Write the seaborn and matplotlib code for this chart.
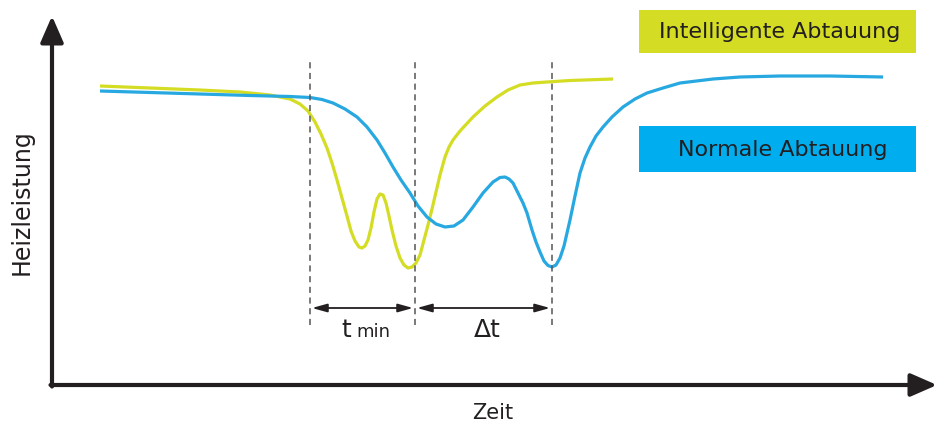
import matplotlib
matplotlib.use("Agg")
import matplotlib.pyplot as plt
from matplotlib.patches import Rectangle
import seaborn as sns
import pandas as pd

# Schematic: heating output over time during defrost
zeit_intelligent = [48, 98, 148, 188, 218, 238, 248, 256, 263, 269, 275, 280, 285, 290, 295, 299,
                    303, 307, 310, 313, 316, 319, 322, 325, 328, 331, 334, 337, 340, 344, 348,
                    352, 356, 360, 364, 368, 372, 376, 380, 384, 388, 393, 397, 401, 408, 421,
                    433, 445, 456, 468, 481, 495, 518, 561]
heiz_intelligent = [299, 297, 295, 293, 290, 286, 281, 274, 263, 251, 237, 222, 205, 187, 169, 154,
                    144, 138, 137, 139, 145, 157, 173, 186, 191, 190, 182, 169, 155, 139, 127,
                    120, 117, 118, 122, 130, 145, 160, 176, 193, 210, 228, 238, 245, 254, 268,
                    279, 288, 295, 300, 302, 303, 304.5, 306]

zeit_normal = [48, 98, 148, 198, 238, 258, 270, 281, 293, 305, 315, 325, 333, 341, 349, 358, 366,
               375, 384, 393, 402, 411, 421, 431, 441, 448, 453, 457, 461, 466, 471, 475, 480,
               484, 488, 492, 496, 500, 504, 508, 512, 515, 518, 523, 528, 533, 538, 544, 551,
               560, 571, 583, 595, 611, 628, 661, 688, 728, 778, 831]
heiz_normal = [294, 292.5, 291, 289.5, 288.5, 287.5, 285.5, 282, 276, 268, 258, 245, 232, 218, 205,
               192, 179, 168, 161, 158, 159, 165, 178, 192, 203, 207.5, 208, 206, 202, 192, 182,
               172, 155, 143, 133, 124, 119.5, 118, 120, 127, 139, 152, 165, 189, 212, 227, 238,
               249, 258, 268, 278, 286, 292, 297, 302, 306, 308, 309, 309, 308]

marker_zeit = [258, 363, 500]
legend_labels = ["Intelligente Abtauung", "Normale Abtauung"]
gelb = "#d4dd24"
blau = "#27a8e0"
blau_box = "#00adef"
dunkel = "#231f20"

df = pd.concat([
    pd.DataFrame({"Zeit": zeit_intelligent, "Heizleistung": heiz_intelligent, "Modus": legend_labels[0]}),
    pd.DataFrame({"Zeit": zeit_normal, "Heizleistung": heiz_normal, "Modus": legend_labels[1]}),
])

sns.set_style("white")
plt.rcParams["font.family"] = ["DejaVu Sans"]

fig = plt.figure(figsize=(9.48, 4.28), dpi=100)
ax = fig.add_axes([0, 0, 1, 1])
sns.lineplot(data=df, x="Zeit", y="Heizleistung", hue="Modus", sort=False,
             palette=[gelb, blau], linewidth=2.3, legend=False, ax=ax,
             solid_joinstyle="round", solid_capstyle="butt")
ax.set_xlim(-52, 896)
ax.set_ylim(-43, 385)
ax.axis("off")

# dashed markers
for z in marker_zeit:
    ax.plot([z, z], [60, 323], color="#555555", lw=1.1, ls=(0, (4, 3)))

# axes with arrows
ax.annotate("", xy=(0, 369), xytext=(0, -1.5),
            arrowprops=dict(arrowstyle="-|>,head_length=1.6,head_width=0.7", color=dunkel, lw=3,
                            shrinkA=0, shrinkB=0))
ax.annotate("", xy=(885, 0), xytext=(-1.5, 0),
            arrowprops=dict(arrowstyle="-|>,head_length=1.6,head_width=0.7", color=dunkel, lw=3,
                            shrinkA=0, shrinkB=0))
ax.text(-30, 183, "Heizleistung", rotation=90, ha="center", va="center", fontsize=17, color=dunkel)
ax.text(441, -28, "Zeit", ha="center", va="center", fontsize=15, color=dunkel)

# interval arrows
y_arr = 77
for a, b in [(marker_zeit[0], marker_zeit[1]), (marker_zeit[1], marker_zeit[2])]:
    ax.annotate("", xy=(b - 2, y_arr), xytext=(a + 2, y_arr),
                arrowprops=dict(arrowstyle="<|-|>,head_length=0.9,head_width=0.25", color=dunkel,
                                lw=1.3, shrinkA=0, shrinkB=0))
ax.text(299, 55, "t", ha="right", va="center", fontsize=18, color=dunkel)
ax.text(304, 53, "min", ha="left", va="center", fontsize=13, color=dunkel)
ax.text(435, 55, "Δt", ha="center", va="center", fontsize=18, color=dunkel)

# legend boxes
ax.add_patch(Rectangle((587, 332), 277, 43, fc=gelb, ec="none"))
ax.add_patch(Rectangle((587, 213), 277, 46, fc=blau_box, ec="none"))
ax.text(728, 353, legend_labels[0], ha="center", va="center", fontsize=16, color=dunkel)
ax.text(731, 235, legend_labels[1], ha="center", va="center", fontsize=16, color=dunkel)

fig.savefig("out.png", dpi=100)
